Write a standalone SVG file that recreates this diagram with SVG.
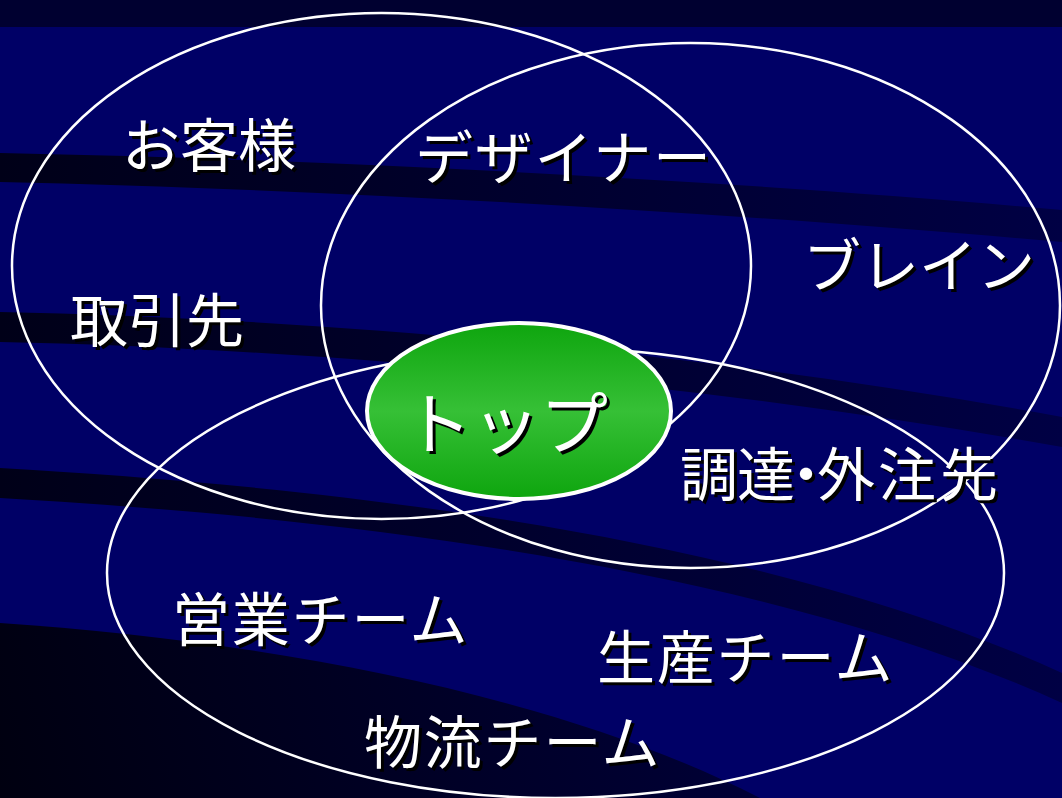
<svg xmlns="http://www.w3.org/2000/svg" width="1062" height="798" viewBox="0 0 1062 798">
  <defs>
    <linearGradient id="bandGrad" gradientUnits="userSpaceOnUse" x1="0" y1="0" x2="1062" y2="0">
      <stop offset="0" stop-color="#000018"/>
      <stop offset="1" stop-color="#000044"/>
    </linearGradient>
    <linearGradient id="cornerGrad" gradientUnits="userSpaceOnUse" x1="0" y1="798" x2="760" y2="620">
      <stop offset="0" stop-color="#000010"/>
      <stop offset="1" stop-color="#000038"/>
    </linearGradient>
    <linearGradient id="greenGrad" x1="0" y1="0" x2="0" y2="1">
      <stop offset="0" stop-color="#0ea50e"/>
      <stop offset="0.5" stop-color="#36c036"/>
      <stop offset="1" stop-color="#0ea50e"/>
    </linearGradient>
    <style>
      .ring { fill: none; stroke: #ffffff; stroke-width: 2.5; }
      .lbl { font-family: "Noto Sans CJK JP", "Noto Sans CJK SC", sans-serif; font-size: 58px; }
      .big { font-size: 68px; }
      .wide { letter-spacing: 1.8px; }
      .sh { fill: #000000; }
      .fg { fill: #ffffff; }
      .band { fill: url(#bandGrad); }
    </style>
  </defs>

  <!-- background -->
  <rect x="0" y="0" width="1062" height="798" fill="#000066"/>
  <rect x="0" y="0" width="1062" height="27" fill="#000030"/>
  <path class="band" d="M0,153 C350,160 750,182 1062,210 L1062,242 C750,214 350,190 0,182 Z"/>
  <path class="band" d="M0,312 C300,318 700,350 1062,417 L1062,447 C700,382 300,348 0,342 Z"/>
  <path class="band" d="M0,468 C300,485 750,530 1062,673 L1062,703 C750,560 300,515 0,498 Z"/>
  <path fill="url(#cornerGrad)" d="M0,623 C250,640 550,690 760,798 L0,798 Z"/>

  <!-- set outlines -->
  <g id="set-customers">
    <ellipse class="ring" cx="381.5" cy="266" rx="369.5" ry="253"/>
  </g>
  <g id="set-partners">
    <ellipse class="ring" cx="690.5" cy="305.5" rx="369.5" ry="262.5"/>
  </g>
  <g id="set-teams">
    <ellipse class="ring" cx="555.5" cy="573" rx="448.5" ry="225"/>
  </g>

  <!-- top node -->
  <g id="node-top">
    <ellipse cx="519" cy="411" rx="152" ry="88" fill="url(#greenGrad)" stroke="#ffffff" stroke-width="4"/>
    <text class="lbl big sh" x="407" y="452">トップ</text>
    <text class="lbl big fg" x="404" y="449">トップ</text>
  </g>

  <g id="node-customer">
    <text class="lbl sh" x="125" y="170">お客様</text>
    <text class="lbl fg" x="122" y="167">お客様</text>
  </g>
  <g id="node-designer">
    <text class="lbl wide sh" x="418" y="182">デザイナー</text>
    <text class="lbl wide fg" x="415" y="179">デザイナー</text>
  </g>
  <g id="node-brain">
    <text class="lbl sh" x="806" y="290">ブレイン</text>
    <text class="lbl fg" x="803" y="287">ブレイン</text>
  </g>
  <g id="node-client">
    <text class="lbl sh" x="73" y="345">取引先</text>
    <text class="lbl fg" x="70" y="342">取引先</text>
  </g>
  <g id="node-supplier">
    <text class="lbl sh" x="683 740 780 820 881 943" y="499">調達・外注先</text>
    <text class="lbl fg" x="680 737 777 817 878 940" y="496">調達・外注先</text>
  </g>
  <g id="node-sales">
    <text class="lbl wide sh" x="175" y="644">営業チーム</text>
    <text class="lbl wide fg" x="172" y="641">営業チーム</text>
  </g>
  <g id="node-production">
    <text class="lbl wide sh" x="600" y="682">生産チーム</text>
    <text class="lbl wide fg" x="597" y="679">生産チーム</text>
  </g>
  <g id="node-logistics">
    <text class="lbl wide sh" x="367" y="767">物流チーム</text>
    <text class="lbl wide fg" x="364" y="764">物流チーム</text>
  </g>

  <g id="connectors"></g>
</svg>
